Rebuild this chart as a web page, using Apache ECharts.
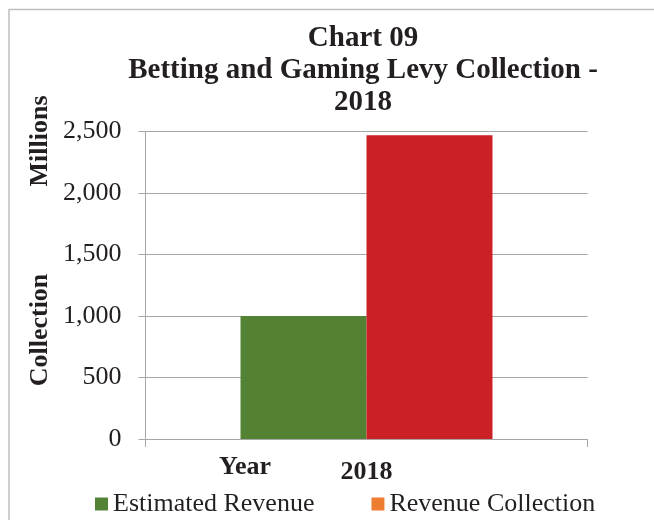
<!DOCTYPE html>
<html>
<head>
<meta charset="utf-8">
<script src="https://cdn.jsdelivr.net/npm/echarts@6/dist/echarts.min.js"></script>
<style>
html,body{margin:0;padding:0;background:#fff;}
#c{width:654px;height:520px;}
</style>
</head>
<body>
<div id="c"></div>
<script>
const categories = ['2018'];
const estimatedRevenue = [1000];
const revenueCollection = [2470];
const seriesNames = ['Estimated Revenue', 'Revenue Collection'];
const yTicks = [0, 500, 1000, 1500, 2000, 2500];

const FONT = '"Liberation Serif", "Times New Roman", serif';
const TXT = '#231f20';

const chart = echarts.init(document.getElementById('c'), null, {renderer: 'canvas'});
chart.setOption({
  animation: false,
  backgroundColor: '#fff',
  title: {
    text: 'Chart 09\nBetting and Gaming Levy Collection -\n2018',
    left: 358,
    textAlign: 'center',
    top: 18,
    textStyle: {fontFamily: FONT, fontSize: 29, fontWeight: 'bold', color: TXT, lineHeight: 32}
  },
  legend: {
    data: [
      {name: seriesNames[0], itemStyle: {color: '#548235'}},
      {name: seriesNames[1], itemStyle: {color: '#ED7D31'}}
    ],
    left: 90,
    top: 486,
    icon: 'rect',
    itemWidth: 13,
    itemHeight: 13,
    itemGap: 57,
    textStyle: {fontFamily: FONT, fontSize: 26, color: TXT}
  },
  grid: {left: 145.5, right: 66.5, top: 131.5, bottom: 81, containLabel: false},
  xAxis: {
    type: 'category',
    data: categories,
    axisLine: {show: true, lineStyle: {color: '#a6a6a6', width: 1}},
    axisTick: {show: true, length: 8, lineStyle: {color: '#a6a6a6'}},
    axisLabel: {fontFamily: FONT, fontSize: 26, fontWeight: 'bold', color: TXT, margin: 20}
  },
  yAxis: {
    type: 'value',
    min: yTicks[0],
    max: yTicks[yTicks.length - 1],
    interval: 500,
    axisLine: {show: true, lineStyle: {color: '#a6a6a6', width: 1}},
    axisTick: {show: true, length: 7, lineStyle: {color: '#a6a6a6'}},
    splitLine: {show: true, lineStyle: {color: '#a6a6a6', width: 1}},
    axisLabel: {
      fontFamily: FONT, fontSize: 26, color: TXT, margin: 24,
      formatter: v => v.toLocaleString('en-US')
    }
  },
  series: [
    {name: seriesNames[0], type: 'bar', data: estimatedRevenue, barWidth: 126, barGap: '0%', itemStyle: {color: '#548235'}},
    {name: seriesNames[1], type: 'bar', data: revenueCollection, barWidth: 126, barGap: '0%', itemStyle: {color: '#CC2027'}}
  ],
  graphic: [
    {type: 'rect', silent: true, z: -1, shape: {x: 9, y: 9.5, width: 700, height: 600}, style: {fill: 'none', stroke: '#bfbfbf', lineWidth: 1.5}},
    {type: 'text', x: 40, y: 141, rotation: Math.PI / 2, style: {text: 'Millions', font: 'bold 26px ' + FONT, fill: TXT, align: 'center', verticalAlign: 'middle'}},
    {type: 'text', x: 40, y: 330, rotation: Math.PI / 2, style: {text: 'Collection', font: 'bold 26px ' + FONT, fill: TXT, align: 'center', verticalAlign: 'middle'}},
    {type: 'text', x: 245, y: 467, style: {text: 'Year', font: 'bold 26px ' + FONT, fill: TXT, align: 'center', verticalAlign: 'middle'}}
  ]
});
</script>
</body>
</html>
